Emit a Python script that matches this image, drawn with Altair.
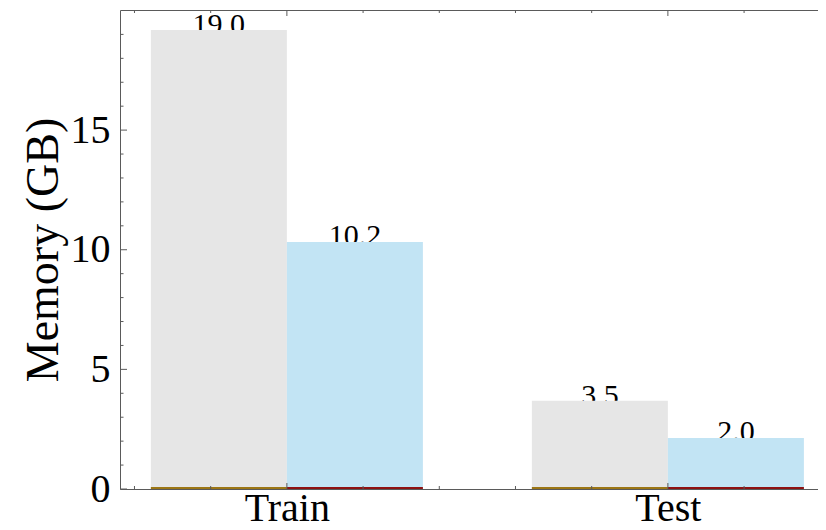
import altair as alt
import pandas as pd

# ---------------- data ----------------
groups = ["Train", "Test"]
group_pos = [0, 1]
series = ["Baseline", "Ours"]
bar_values = {"Baseline": [19.18, 3.69], "Ours": [10.32, 2.13]}
label_values = {"Baseline": [19.0, 3.5], "Ours": [10.2, 2.0]}
bar_fill = {"Baseline": "#e6e6e6", "Ours": "#c2e4f4"}
bar_edge = {"Baseline": "#9c7614", "Ours": "#8e1212"}
bar_width = 0.357

y_major = [0, 5, 10, 15]
y_minor = [1, 2, 3, 4, 6, 7, 8, 9, 11, 12, 13, 14, 16, 17, 18, 19]
x_major = [0, 1]
x_minor = [-0.4, -0.2, 0.2, 0.4, 0.6, 0.8, 1.2]

# ---------------- styling ----------------
W, H = 698, 479
FONT = "Liberation Serif"
SPINE = "#5a5a5a"
xs = alt.Scale(domain=[-0.438, 1.394], nice=False, zero=False)
ys = alt.Scale(domain=[0, 20.02], nice=False, zero=True)

rows = []
for si, s in enumerate(series):
    for gi, g in enumerate(groups):
        rows.append({
            "group": g, "pos": group_pos[gi], "si": si,
            "value": bar_values[s][gi], "label": label_values[s][gi],
            "text": f"{label_values[s][gi]:.1f}",
            "fill": bar_fill[s], "edge": bar_edge[s], "zero": 0,
        })
df = pd.DataFrame(rows)

base = alt.Chart(df).transform_calculate(
    x0=f"datum.pos + (datum.si - 1) * {bar_width}",
    x1=f"datum.pos + datum.si * {bar_width}",
).transform_calculate(xc="(datum.x0 + datum.x1) / 2")

label_expr = " : ".join(
    [f"datum.value == {p} ? '{g}'" for p, g in zip(group_pos, groups)]
) + " : ''"

texts = base.mark_text(
    baseline="alphabetic", align="center", font=FONT, fontSize=30, color="#000"
).encode(
    x=alt.X("xc:Q", scale=xs, axis=None),
    y=alt.Y("label:Q", scale=ys, axis=None),
    text="text:N",
)

bars = base.mark_bar(strokeWidth=0).encode(
    x=alt.X("x0:Q", scale=xs, axis=alt.Axis(
        orient="bottom", values=group_pos, labelExpr=label_expr, tickSize=0,
        labelBaseline="alphabetic", labelPadding=31, labelFont=FONT,
        labelFontSize=40, labelColor="#000",
        labelFlush=False, labelOverlap=False, domainColor=SPINE, domainWidth=1,
        grid=False, title=None, zindex=1)),
    x2="x1:Q",
    y=alt.Y("value:Q", scale=ys, axis=alt.Axis(
        orient="left", values=y_major, tickSize=0, labelPadding=10,
        labelFont=FONT, labelFontSize=40, labelColor="#000", labelFlush=False,
        labelOverlap=False, domain=True, domainColor=SPINE, domainWidth=1,
        grid=False, title="Memory (GB)", titleFont=FONT, titleFontSize=46,
        titleFontWeight="normal", titleColor="#000", titlePadding=3, zindex=1)),
    y2="zero:Q",
    color=alt.Color("fill:N", scale=None),
)

edges = base.mark_rule(strokeWidth=2, yOffset=-1).encode(
    x=alt.X("x0:Q", scale=xs, axis=None),
    x2="x1:Q",
    y=alt.Y("zero:Q", scale=ys, axis=None),
    color=alt.Color("edge:N", scale=None),
)

def yticks(vals, length):
    return alt.Chart(pd.DataFrame({"v": vals})).mark_rule(
        color=SPINE, strokeWidth=1
    ).encode(
        y=alt.Y("v:Q", scale=ys, axis=None),
        x=alt.value(0), x2=alt.value(length),
    )

def xticks(vals, length, top, axis=None):
    enc = dict(x=alt.X("v:Q", scale=xs, axis=axis))
    if top:
        enc.update(y=alt.value(0), y2=alt.value(length))
    else:
        enc.update(y=alt.value(H), y2=alt.value(H - length))
    return alt.Chart(pd.DataFrame({"v": vals})).mark_rule(
        color=SPINE, strokeWidth=1
    ).encode(**enc)

top_axis = alt.Axis(
    orient="top", labels=False, ticks=False, domain=True,
    domainColor=SPINE, domainWidth=1, grid=False, title=None, zindex=1)

chart = alt.layer(
    texts, bars, edges,
    yticks(y_major, 7), yticks(y_minor, 3.5),
    xticks(x_major, 6, True, top_axis), xticks(x_minor, 3, True),
    xticks(x_major, 6, False), xticks(x_minor, 3, False),
).resolve_axis(x="independent", y="independent").properties(
    width=W, height=H,
    autosize=alt.AutoSizeParams(type="none"),
    padding={"left": 112, "top": 2, "right": 0, "bottom": 40},
).configure_view(stroke=None).configure_axis(grid=False)

chart.save("out.html", embed_options={"renderer": "svg", "actions": False})
